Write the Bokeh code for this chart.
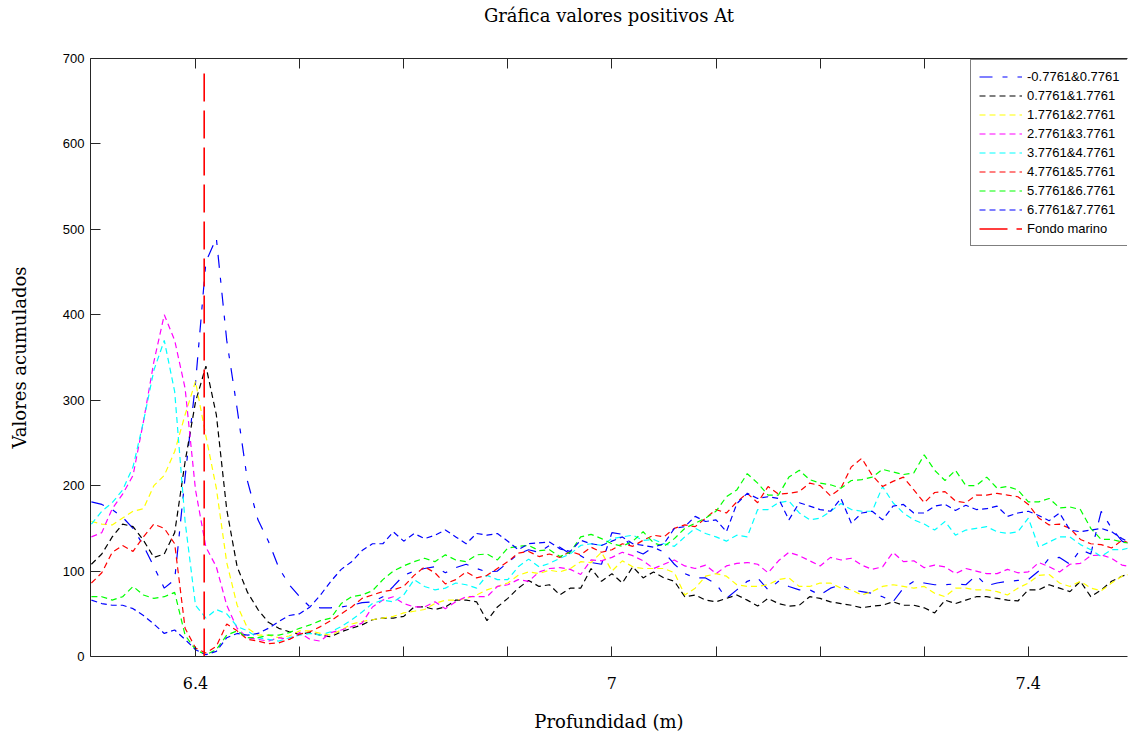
import numpy as np
from bokeh.plotting import figure
from bokeh.models import Range1d, FixedTicker, LinearAxis
from bokeh.embed import file_html
from bokeh.resources import INLINE

# ---------------- data ----------------
# depth samples (m) along the profile
depth = np.round(6.25 + 0.015 * np.arange(101), 4)

s1 = [181, 178, 172, 163, 150, 130, 105, 80, 90, 210, 320, 462, 490, 370, 290, 205, 160, 135, 104, 84, 70,
      58, 57, 57, 58, 60, 63, 64, 70, 82, 95, 100, 103, 105, 98, 104, 108, 103, 99, 100, 110, 120, 125, 122, 130, 128, 120, 118,
      110, 108, 145, 143, 125, 120, 128, 122, 108, 97, 92, 92, 85, 68, 78, 88, 92, 78, 88, 82, 78, 78, 72, 80, 84, 78,
      76, 74, 70, 64, 80, 88, 86, 84, 84, 85, 84, 95, 83, 86, 88, 89, 90, 100, 115, 116, 108, 125, 120, 170, 150, 135, 130]
s2 = [108, 120, 140, 155, 152, 136, 116, 120, 145, 228, 298, 340, 283, 172, 105, 75, 55, 40, 33, 29, 26,
      28, 25, 23, 29, 33, 37, 43, 45, 45, 47, 58, 58, 55, 58, 66, 66, 64, 42, 58, 68, 80, 89, 82, 84, 72, 80, 80,
      103, 88, 97, 86, 105, 92, 99, 92, 88, 70, 72, 66, 64, 68, 72, 66, 59, 68, 62, 59, 60, 70, 68, 64, 62, 60,
      57, 59, 60, 64, 60, 60, 57, 51, 66, 62, 66, 70, 70, 68, 66, 65, 78, 78, 84, 80, 76, 88, 70, 78, 88, 94, 98]
s3 = [158, 155, 154, 162, 170, 173, 200, 212, 240, 283, 322, 258, 197, 110, 60, 33, 25, 25, 22, 24, 30,
      30, 27, 25, 31, 38, 41, 43, 45, 47, 51, 53, 55, 62, 66, 66, 68, 72, 78, 82, 86, 95, 99, 97, 101, 99, 103, 111,
      110, 122, 100, 112, 105, 103, 103, 103, 98, 72, 80, 94, 97, 94, 84, 82, 82, 84, 90, 92, 82, 82, 86, 86, 80, 78,
      72, 76, 82, 84, 82, 80, 82, 74, 70, 80, 80, 78, 78, 76, 72, 80, 86, 95, 96, 86, 82, 88, 80, 77, 86, 94, 97]
s4 = [140, 145, 173, 190, 212, 275, 345, 400, 370, 314, 195, 128, 105, 60, 33, 22, 20, 18, 22, 20, 28,
      20, 18, 28, 31, 35, 39, 58, 66, 70, 62, 58, 58, 64, 56, 64, 70, 70, 70, 82, 84, 90, 88, 99, 103, 104, 102, 96,
      113, 112, 116, 122, 118, 112, 103, 108, 113, 106, 103, 107, 97, 106, 109, 110, 108, 98, 112, 122, 118, 112, 106, 116, 113, 115,
      107, 102, 105, 122, 111, 112, 104, 107, 105, 97, 103, 100, 97, 97, 102, 98, 99, 110, 105, 99, 108, 109, 118, 119, 115, 107, 105]
s5 = [155, 170, 180, 195, 222, 275, 335, 370, 310, 158, 60, 45, 55, 50, 35, 30, 22, 20, 18, 22, 25,
      27, 25, 29, 35, 43, 52, 62, 66, 64, 72, 90, 82, 78, 80, 86, 84, 80, 95, 90, 90, 105, 114, 105, 109, 115, 120, 130,
      132, 130, 138, 140, 142, 136, 137, 132, 129, 140, 150, 144, 140, 135, 142, 140, 172, 172, 180, 182, 168, 160, 162, 170, 179, 172,
      170, 170, 199, 180, 168, 160, 155, 148, 158, 142, 148, 150, 152, 146, 144, 146, 162, 128, 134, 140, 140, 131, 125, 117, 125, 125, 128]
s6 = [86, 98, 122, 130, 123, 140, 155, 150, 132, 33, 10, 4, 12, 38, 30, 20, 18, 15, 16, 20, 26,
      29, 35, 42, 50, 58, 68, 72, 76, 78, 82, 95, 105, 98, 85, 90, 99, 92, 95, 103, 111, 121, 123, 117, 120, 116, 123, 119,
      128, 122, 125, 132, 129, 136, 142, 140, 150, 154, 152, 162, 172, 168, 181, 191, 180, 199, 190, 191, 193, 203, 200, 188, 197, 222,
      232, 212, 199, 205, 210, 195, 180, 192, 193, 182, 180, 189, 189, 191, 189, 187, 178, 162, 154, 155, 150, 137, 132, 131, 127, 136, 131]
s7 = [70, 70, 66, 70, 82, 72, 68, 70, 75, 25, 8, 2, 8, 25, 30, 22, 22, 25, 25, 28, 33,
      37, 42, 45, 62, 70, 72, 77, 90, 100, 106, 111, 115, 111, 119, 113, 111, 119, 120, 113, 127, 129, 130, 124, 125, 117, 122, 140,
      143, 138, 132, 129, 135, 146, 133, 129, 138, 150, 156, 162, 170, 187, 195, 214, 203, 189, 189, 210, 218, 207, 203, 201, 197, 206,
      207, 210, 219, 216, 213, 215, 236, 218, 206, 218, 200, 200, 210, 197, 199, 195, 181, 181, 185, 174, 175, 172, 150, 137, 137, 134, 132]
s8 = [66, 62, 60, 60, 56, 48, 38, 27, 31, 20, 8, 2, 6, 22, 27, 25, 27, 33, 41, 48, 50,
      58, 72, 88, 102, 111, 124, 132, 132, 146, 135, 144, 138, 142, 148, 140, 132, 144, 142, 144, 135, 125, 132, 133, 134, 126, 123, 136,
      132, 130, 135, 140, 132, 130, 128, 132, 150, 152, 164, 158, 160, 146, 179, 191, 185, 187, 185, 160, 180, 176, 172, 170, 185, 156,
      168, 170, 160, 176, 178, 168, 168, 176, 178, 171, 177, 172, 173, 176, 164, 168, 170, 165, 159, 168, 148, 146, 148, 150, 146, 138, 132]

series = [s1, s2, s3, s4, s5, s6, s7, s8]
series_labels = ["-0.7761&0.7761", "0.7761&1.7761", "1.7761&2.7761", "2.7761&3.7761",
                 "3.7761&4.7761", "4.7761&5.7761", "5.7761&6.7761", "6.7761&7.7761"]
series_colors = ["#0000FF", "#000000", "#FFFF00", "#FF00FF", "#00FFFF", "#FF0000", "#00FF00", "#0000FF"]
series_dash = ["13 10 5 10"] + ["6 4"] * 7

fondo_depth = 6.4125        # sea-floor depth (m)
fondo_levels = [0, 690]     # vertical extent of the sea-floor marker
fondo_label = "Fondo marino"

x_label_ticks = [6.4, 7.0, 7.6]
x_label_text = ["6.4", "7", "7.4"]
x_minor_ticks = [6.55, 6.7, 6.85, 7.15, 7.3, 7.45]
y_tick_values = [0, 100, 200, 300, 400, 500, 600, 700]

title_text = "Gráfica valores positivos At"
x_title = "Profundidad (m)"
y_title = "Valores acumulados"

# ---------------- figure ----------------
W, H = 1128, 736
p = figure(width=W, height=H, output_backend="svg", toolbar_location=None,
           x_range=Range1d(6.2487, 7.7429), y_range=Range1d(0, 700),
           min_border_left=90, min_border_right=1, min_border_top=58, min_border_bottom=80,
           background_fill_color="white", border_fill_color="white")
p.outline_line_color = None
p.xgrid.visible = False
p.ygrid.visible = False
p.title.visible = False

for ys, lab, col, dash in zip(series, series_labels, series_colors, series_dash):
    p.line(depth, ys, line_color=col, line_width=1.2, line_dash=dash, legend_label=lab)

p.line([fondo_depth, fondo_depth], fondo_levels, line_color="#FF0000", line_width=1.6,
       line_dash="28 9", legend_label=fondo_label)

axis_color = "#262626"
xa = p.xaxis[0]
xa.ticker = FixedTicker(ticks=x_label_ticks, minor_ticks=x_minor_ticks)
xa.major_label_overrides = {v: t for v, t in zip(x_label_ticks, x_label_text)}
xa.major_label_text_font = "DejaVu Serif"
xa.major_label_text_font_size = "16px"
xa.major_label_text_color = "black"
xa.major_label_standoff = 20
xa.major_tick_in = 10
xa.major_tick_out = 0
xa.minor_tick_in = 10
xa.minor_tick_out = 0
xa.axis_line_color = axis_color
xa.major_tick_line_color = axis_color
xa.minor_tick_line_color = axis_color
xa.axis_label = x_title
xa.axis_label_text_font = "DejaVu Serif"
xa.axis_label_text_font_size = "18px"
xa.axis_label_text_font_style = "normal"
xa.axis_label_text_color = "black"
xa.axis_label_standoff = 19

ya = p.yaxis[0]
ya.ticker = FixedTicker(ticks=y_tick_values)
ya.major_label_text_font = "Liberation Sans"
ya.major_label_text_font_size = "13px"
ya.major_label_text_color = "black"
ya.major_label_standoff = 6
ya.major_tick_in = 10
ya.major_tick_out = 0
ya.minor_tick_in = 0
ya.minor_tick_out = 0
ya.axis_line_color = axis_color
ya.major_tick_line_color = axis_color
ya.axis_label = y_title
ya.axis_label_text_font = "DejaVu Serif"
ya.axis_label_text_font_size = "18px"
ya.axis_label_text_font_style = "normal"
ya.axis_label_text_color = "black"
ya.axis_label_standoff = 30

# top frame edge with inward ticks; it carries the chart title as its label
top = LinearAxis(ticker=FixedTicker(ticks=[], minor_ticks=x_label_ticks + x_minor_ticks),
                 major_tick_in=0, major_tick_out=0, major_label_standoff=0,
                 minor_tick_in=10, minor_tick_out=0,
                 axis_line_color=axis_color, minor_tick_line_color=axis_color,
                 axis_label=title_text, axis_label_text_font="DejaVu Serif",
                 axis_label_text_font_size="18px", axis_label_text_font_style="normal",
                 axis_label_text_color="black", axis_label_standoff=33)
p.add_layout(top, "above")

lg = p.legend[0]
lg.location = (880, 410)
lg.label_text_font = "Liberation Sans"
lg.label_text_font_size = "13px"
lg.label_text_color = "black"
lg.label_height = 17
lg.glyph_height = 17
lg.glyph_width = 43
lg.label_standoff = 5
lg.spacing = 2
lg.padding = 8
lg.margin = 0
lg.border_line_color = "black"
lg.border_line_width = 1
lg.background_fill_color = "white"
lg.background_fill_alpha = 1.0

open("out.html", "w").write(file_html(p, INLINE))
